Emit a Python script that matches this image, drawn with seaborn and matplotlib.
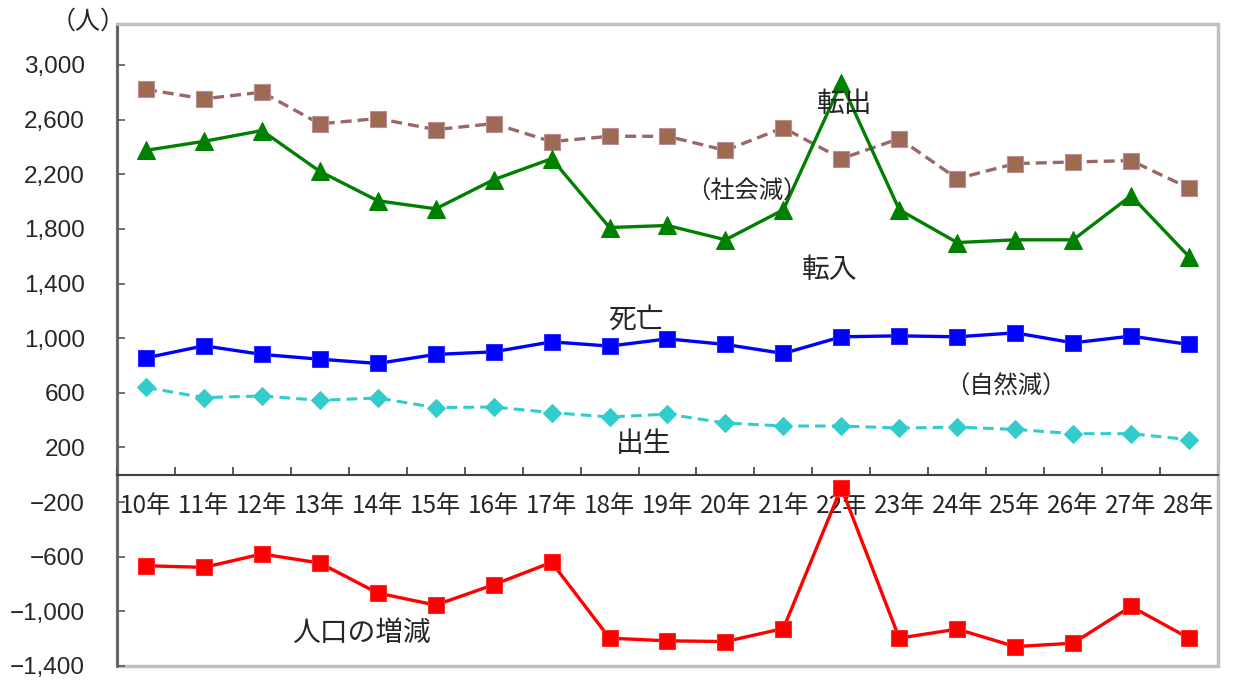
# ==========================
# 人口動態の推移（出生・死亡・転入・転出・人口の増減）
# ==========================

import numpy as np
import pandas as pd
import matplotlib.pyplot as plt
import seaborn as sns
from matplotlib.ticker import FuncFormatter

# ==========================
# Data
# ==========================

years = ["10年", "11年", "12年", "13年", "14年", "15年", "16年", "17年", "18年", "19年",
         "20年", "21年", "22年", "23年", "24年", "25年", "26年", "27年", "28年"]

tenshutsu = [2821, 2752, 2801, 2569, 2608, 2527, 2571, 2439, 2478, 2478,
             2375, 2540, 2314, 2461, 2168, 2278, 2290, 2300, 2099]
tennyu = [2375, 2441, 2520, 2221, 2006, 1947, 2160, 2314, 1810, 1825,
          1720, 1940, 2870, 1940, 1700, 1720, 1720, 2043, 1597]
shibou = [856, 944, 881, 846, 815, 881, 900, 973, 942, 995,
          954, 888, 1010, 1017, 1010, 1039, 966, 1015, 954]
shussei = [639, 565, 577, 545, 562, 492, 496, 455, 423, 444,
           379, 357, 357, 342, 349, 332, 301, 301, 257]
zougen = [-666, -678, -580, -646, -866, -954, -805, -641, -1196, -1216,
          -1221, -1126, -95, -1196, -1130, -1258, -1233, -964, -1196]

yticks = [-1400, -1000, -600, -200, 200, 600, 1000, 1400, 1800, 2200, 2600, 3000]

df = pd.DataFrame({
    "x": np.arange(len(years)),
    "tenshutsu": tenshutsu,
    "tennyu": tennyu,
    "shibou": shibou,
    "shussei": shussei,
    "zougen": zougen,
})

# ==========================
# Style
# ==========================

sns.set_style("white")
plt.rcParams["font.family"] = ["Noto Sans CJK JP", "DejaVu Sans"]
tick_family = ["Liberation Sans", "Noto Sans CJK JP"]

fig, ax = plt.subplots(figsize=(12.33, 6.8), dpi=100)
fig.subplots_adjust(left=0.0949, right=0.9878, bottom=0.0206, top=0.9647)

# ==========================
# Lines
# ==========================

# 転出 (brown, dashed, square with x)
sns.lineplot(data=df, x="x", y="tenshutsu", ax=ax, color="#9a6767", lw=2.4,
             linestyle=(0, (3.3, 1.8)), marker="s", markersize=11.5,
             markerfacecolor="#9a6767", markeredgecolor="#b89090", markeredgewidth=0.8)
sns.scatterplot(data=df, x="x", y="tenshutsu", ax=ax, marker="x", s=95,
                color="#a56f38", linewidth=1.5, zorder=5)

# 転入 (green, triangles)
sns.lineplot(data=df, x="x", y="tennyu", ax=ax, color="#008000", lw=2.4,
             marker="^", markersize=12.5, markeredgecolor="#008000")

# 死亡 (blue squares)
sns.lineplot(data=df, x="x", y="shibou", ax=ax, color="#0000ff", lw=2.4,
             marker="s", markersize=12, markeredgecolor="#2a2aff")

# 出生 (cyan, dashed, diamonds)
sns.lineplot(data=df, x="x", y="shussei", ax=ax, color="#33cccc", lw=2.2,
             linestyle=(0, (3.5, 2)), marker="D", markersize=9.5, markeredgecolor="#33cccc")

# 人口の増減 (red squares)
sns.lineplot(data=df, x="x", y="zougen", ax=ax, color="#ff0000", lw=2.4,
             marker="s", markersize=12, markeredgecolor="#ff2a2a")

# ==========================
# Axes
# ==========================

ax.set_xlim(-0.5, len(years) - 0.5)
ax.set_ylim(-1400, 3300)
ax.set_xlabel("")
ax.set_ylabel("")

ax.set_xticks(df["x"])
ax.set_xticklabels(years)
ax.set_xticks(np.arange(-0.5, len(years), 1), minor=True)
ax.tick_params(axis="x", which="major", bottom=True, length=0, pad=13, labelsize=17.5)
ax.tick_params(axis="x", which="minor", bottom=True, direction="in", length=6,
               width=1.2, color="#404040")

ax.set_yticks(yticks)
ax.yaxis.set_major_formatter(FuncFormatter(lambda v, p: f"{v:,.0f}".replace("-", "\u2212")))
ax.tick_params(axis="y", left=True, direction="in", length=6, width=1.2,
               color="#595959", pad=23, labelsize=17.5)

for t in ax.get_xticklabels() + ax.get_yticklabels():
    t.set_family(tick_family)

# zero line carries the year labels
ax.spines["bottom"].set_position(("data", 0))
ax.spines["bottom"].set_color("#404040")
ax.spines["bottom"].set_linewidth(1.5)
ax.spines["left"].set_color("#595959")
ax.spines["left"].set_linewidth(1.8)
for side in ["top", "right"]:
    ax.spines[side].set_color("#c0c0c0")
    ax.spines[side].set_linewidth(2)
ax.patch.set_edgecolor("#c0c0c0")
ax.patch.set_linewidth(2.5)

# ==========================
# Labels
# ==========================

ax.text(-0.026, 1.003, "（人）", transform=ax.transAxes, ha="center", va="center", fontsize=18)
ax.text(12.05, 2718, "転出", ha="center", va="center", fontsize=20)
ax.text(10.37, 2072, "（社会減）", ha="center", va="center", fontsize=17.5)
ax.text(11.80, 1500, "転入", ha="center", va="center", fontsize=20)
ax.text(8.46, 1133, "死亡", ha="center", va="center", fontsize=20)
ax.text(14.84, 648, "（自然減）", ha="center", va="center", fontsize=17.5)
ax.text(8.59, 222, "出生", ha="center", va="center", fontsize=20)
ax.text(3.71, -1158, "人口の増減", ha="center", va="center", fontsize=20)

fig.savefig("out.png", dpi=100)
